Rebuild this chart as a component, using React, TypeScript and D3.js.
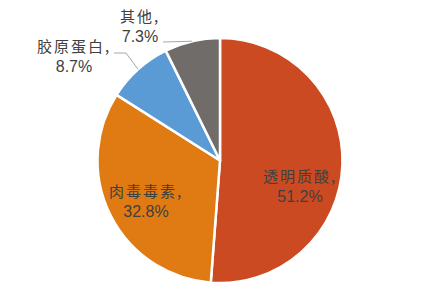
import React from "react";
import * as d3 from "d3";

const categories = ["透明质酸", "肉毒毒素", "胶原蛋白", "其他"];
const values = [51.2, 32.8, 8.7, 7.3];
const valueLabels = ["51.2%", "32.8%", "8.7%", "7.3%"];
const colors = ["#CB4A22", "#DF7B12", "#5B9BD5", "#6F6C6A"];

const W = 441;
const H = 295;
const cx = 220;
const cy = 160.5;
const R = 122.5;

// label layout: [x, y of first line, inside?, leader start]
const labelLayout = [
  { x: 300, y: 175, inside: true },
  { x: 146, y: 190, inside: true },
  { x: 74, y: 45, inside: false, lx: 114, ly: 53, bend: 126 },
  { x: 140, y: 15, inside: false, lx: 163, ly: 42, bend: null as number | null },
];

export default function App() {
  const pie = d3
    .pie<number>()
    .sort(null)
    .value((d) => d)
    .startAngle(0)
    .endAngle(2 * Math.PI);
  const arcs = pie(values);
  const arc = d3.arc<d3.PieArcDatum<number>>().innerRadius(0).outerRadius(R);

  return (
    <svg
      width={W}
      height={H}
      style={{ position: "absolute", left: 0, top: 0, background: "#fff" }}
    >
      <g transform={`translate(${cx},${cy})`}>
        {arcs.map((a, i) => (
          <path
            key={i}
            d={arc(a) || ""}
            fill={colors[i]}
            stroke="#fff"
            strokeWidth={2.5}
            strokeLinejoin="round"
          />
        ))}
      </g>
      {arcs.map((a, i) => {
        const L = labelLayout[i];
        if (L.inside) return null;
        const mid = (a.startAngle + a.endAngle) / 2;
        const ex = cx + R * Math.sin(mid);
        const ey = cy - R * Math.cos(mid);
        const pts: [number, number][] = [[L.lx!, L.ly!]];
        if (L.bend != null) pts.push([L.bend, L.ly!]);
        pts.push([ex, ey]);
        return (
          <path
            key={"l" + i}
            d={d3.line()(pts) || ""}
            fill="none"
            stroke="#A6A6A6"
            strokeWidth={1}
          />
        );
      })}
      {arcs.map((a, i) => {
        const L = labelLayout[i];
        return (
          <g key={"t" + i} fill="#404040" textAnchor="middle">
            <text
              x={L.x}
              y={L.y}
              dominantBaseline="central"
              style={{
                fontFamily: "'Noto Sans CJK SC', sans-serif",
                fontSize: 15,
                letterSpacing: 2,
              }}
            >
              {categories[i] + ","}
            </text>
            <text
              x={L.x}
              y={L.y + 21}
              dominantBaseline="central"
              style={{ fontFamily: "'Liberation Sans', Arial, sans-serif", fontSize: 16 }}
            >
              {valueLabels[i]}
            </text>
          </g>
        );
      })}
    </svg>
  );
}
